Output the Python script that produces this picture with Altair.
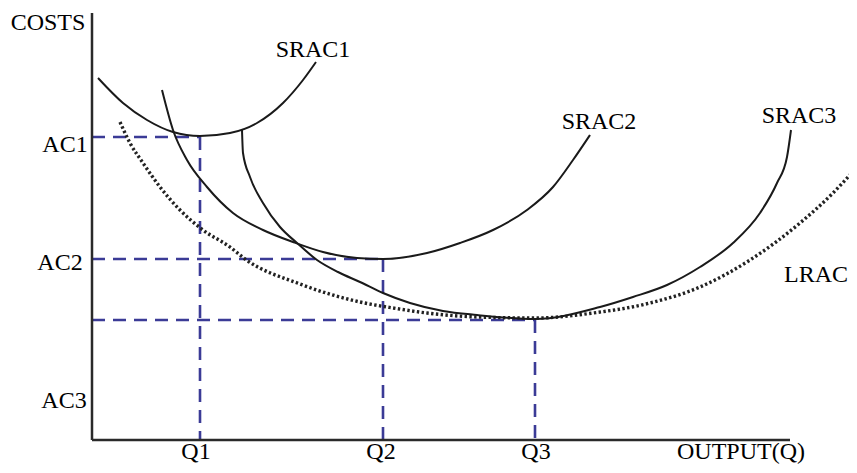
import altair as alt
import pandas as pd

# ---- data (Output Q on x, Costs on y; arbitrary units) ----
srac1_q = [6, 31, 55, 81, 108, 138, 165, 191, 211, 224]
srac1_c = [362, 337, 320, 308, 304, 307, 317, 337, 360, 378]

srac2_q = [70, 81, 95, 115, 141, 171, 201, 231, 265, 291, 335, 368, 401, 435, 461, 481, 498]
srac2_c = [350, 310, 280, 253, 227, 210, 198, 188, 182, 181, 187, 197, 210, 230, 253, 280, 305]

srac3_q = [150, 151, 158, 171, 188, 205, 225, 246, 268, 291, 318, 351, 385, 443, 508,
           541, 575, 608, 641, 668, 685, 695, 699]
srac3_c = [310, 287, 263, 237, 213, 197, 180, 168, 158, 147, 137, 129, 125, 121, 133,
           143, 155, 173, 197, 227, 257, 283, 310]

lrac_q = [28, 38, 51, 68, 88, 111, 138, 153, 208, 268, 301, 335, 385, 445, 501, 558,
          608, 658, 708, 741, 765]
lrac_c = [318, 297, 277, 253, 230, 210, 193, 181, 156, 138, 132, 127, 123, 122, 127, 137,
          153, 180, 217, 247, 273]

q_levels = [108, 291, 443]      # Q1, Q2, Q3
ac_levels = [303, 181, 120]     # AC1, AC2, AC3

axis_q_max = 698
axis_c_max = 427

label_text = ["COSTS", "SRAC1", "SRAC2", "SRAC3", "LRAC", "AC1", "AC2", "AC3",
              "Q1", "Q2", "Q3", "OUTPUT(Q)"]
label_q = [-44, 221, 507, 707, 724, -27, -32, -28, 104, 289, 444, 649]
label_c = [410, 383, 311, 317, 158, 288, 170, 32, -19, -19, -19, -19]

# ---- tables ----
def curve_df(name, q, c):
    return pd.DataFrame({"curve": name, "q": q, "c": c, "i": list(range(len(q)))})

solid_df = pd.concat([
    curve_df("SRAC1", srac1_q, srac1_c),
    curve_df("SRAC2", srac2_q, srac2_c),
    curve_df("SRAC3", srac3_q, srac3_c),
], ignore_index=True)
lrac_df = curve_df("LRAC", lrac_q, lrac_c)

seg_rows = []
for q, c in zip(q_levels, ac_levels):
    seg_rows.append({"x": 0, "y": c, "x2": q, "y2": c})
    seg_rows.append({"x": q, "y": c, "x2": q, "y2": 0})
seg_df = pd.DataFrame(seg_rows)

axis_df = pd.DataFrame([
    {"x": 0, "y": 0, "x2": 0, "y2": axis_c_max},
    {"x": 0, "y": 0, "x2": axis_q_max, "y2": 0},
])

lab_df = pd.DataFrame({"t": label_text, "q": label_q, "c": label_c})

xs = alt.Scale(domain=[-84, 757], nice=False, zero=False)
ys = alt.Scale(domain=[-25, 432], nice=False, zero=False)

axes = alt.Chart(axis_df).mark_rule(color="#2a2a2a", strokeWidth=2.5).encode(
    x=alt.X("x:Q", scale=xs, axis=None),
    y=alt.Y("y:Q", scale=ys, axis=None),
    x2="x2:Q", y2="y2:Q",
)

dashed = alt.Chart(seg_df).mark_rule(color="#3b3b96", strokeWidth=2.6, strokeDash=[13, 8]).encode(
    x=alt.X("x:Q", scale=xs, axis=None),
    y=alt.Y("y:Q", scale=ys, axis=None),
    x2="x2:Q", y2="y2:Q",
)

solid = alt.Chart(solid_df).mark_line(color="#1a1a1a", strokeWidth=2, interpolate="monotone").encode(
    x=alt.X("q:Q", scale=xs, axis=None),
    y=alt.Y("c:Q", scale=ys, axis=None),
    detail="curve:N",
    order="i:Q",
)

lrac = alt.Chart(lrac_df).mark_line(color="#222222", strokeWidth=3.4, strokeDash=[2.4, 2.4],
                                    interpolate="monotone").encode(
    x=alt.X("q:Q", scale=xs, axis=None),
    y=alt.Y("c:Q", scale=ys, axis=None),
    order="i:Q",
)

labels = alt.Chart(lab_df).mark_text(font="Liberation Serif", fontSize=24, color="black",
                                     baseline="alphabetic", align="center").encode(
    x=alt.X("q:Q", scale=xs, axis=None),
    y=alt.Y("c:Q", scale=ys, axis=None),
    text="t:N",
)

chart = alt.layer(dashed, axes, lrac, solid, labels).properties(
    width=841, height=457,
    autosize=alt.AutoSizeParams(type="none"),
    padding=0,
    background="white",
).configure_view(stroke=None)

chart.save("out.html", embed_options={"renderer": "svg", "actions": False})
